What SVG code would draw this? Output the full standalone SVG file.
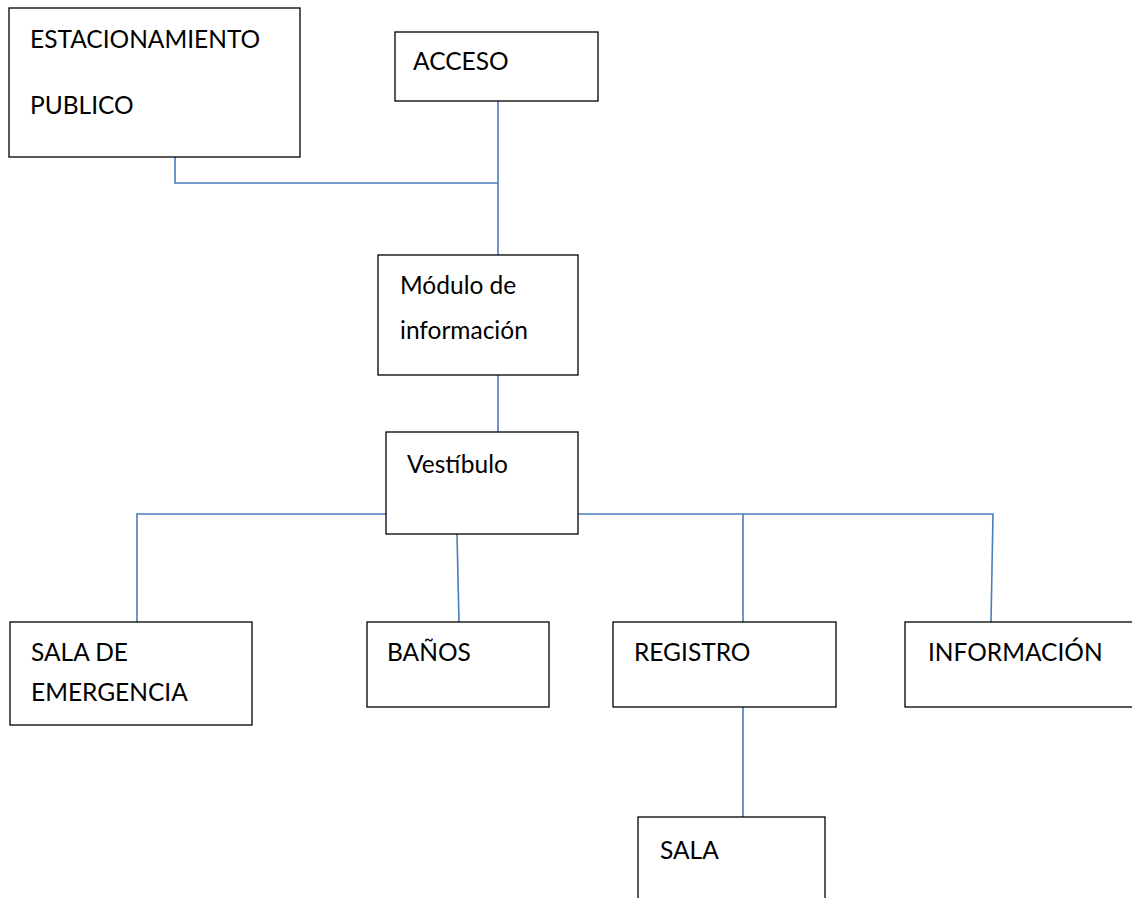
<svg xmlns="http://www.w3.org/2000/svg" width="1132" height="898" viewBox="0 0 1132 898">
<style>
.box{fill:#fff;stroke:#000;stroke-width:1.3}
.t{font-family:Lato,"Liberation Sans",sans-serif;font-size:24.5px;fill:#000}
.c{fill:none;stroke:#4a7ebb;stroke-width:1.6}
</style>
<rect width="1132" height="898" fill="#fff"/>
<g id="connectors">
<polyline class="c" points="175,157 175,183 498,183"/>
<line class="c" x1="498" y1="101" x2="498" y2="255"/>
<line class="c" x1="498" y1="375" x2="498" y2="432"/>
<polyline class="c" points="137,622 137,514 386,514"/>
<polyline class="c" points="578,514 993,514 991,622"/>
<line class="c" x1="743" y1="514" x2="743" y2="622"/>
<line class="c" x1="457" y1="534" x2="459" y2="622"/>
<line class="c" x1="743" y1="707" x2="743" y2="817"/>
</g>
<g id="estacionamiento"><rect class="box" x="9" y="8" width="291" height="149"/><text class="t" x="30" y="48">ESTACIONAMIENTO</text><text class="t" x="30" y="114">PUBLICO</text></g>
<g id="acceso"><rect class="box" x="395" y="32" width="203" height="69"/><text class="t" x="413" y="70">ACCESO</text></g>
<g id="modulo"><rect class="box" x="378" y="255" width="200" height="120"/><text class="t" x="400" y="294">Módulo de</text><text class="t" x="400" y="339">información</text></g>
<g id="vestibulo"><rect class="box" x="386" y="432" width="192" height="102"/><text class="t" x="407" y="473">Vestíbulo</text></g>
<g id="sala-emergencia"><rect class="box" x="10" y="622" width="242" height="103"/><text class="t" x="31" y="661">SALA DE</text><text class="t" x="31" y="701">EMERGENCIA</text></g>
<g id="banos"><rect class="box" x="367" y="622" width="182" height="85"/><text class="t" x="387" y="661">BAÑOS</text></g>
<g id="registro"><rect class="box" x="613" y="622" width="223" height="85"/><text class="t" x="634" y="661">REGISTRO</text></g>
<g id="informacion"><rect class="box" x="905" y="622" width="240" height="85"/><text class="t" x="928" y="661">INFORMACIÓN</text></g>
<g id="sala"><rect class="box" x="638" y="817" width="187" height="100"/><text class="t" x="660" y="859">SALA</text></g>
</svg>
